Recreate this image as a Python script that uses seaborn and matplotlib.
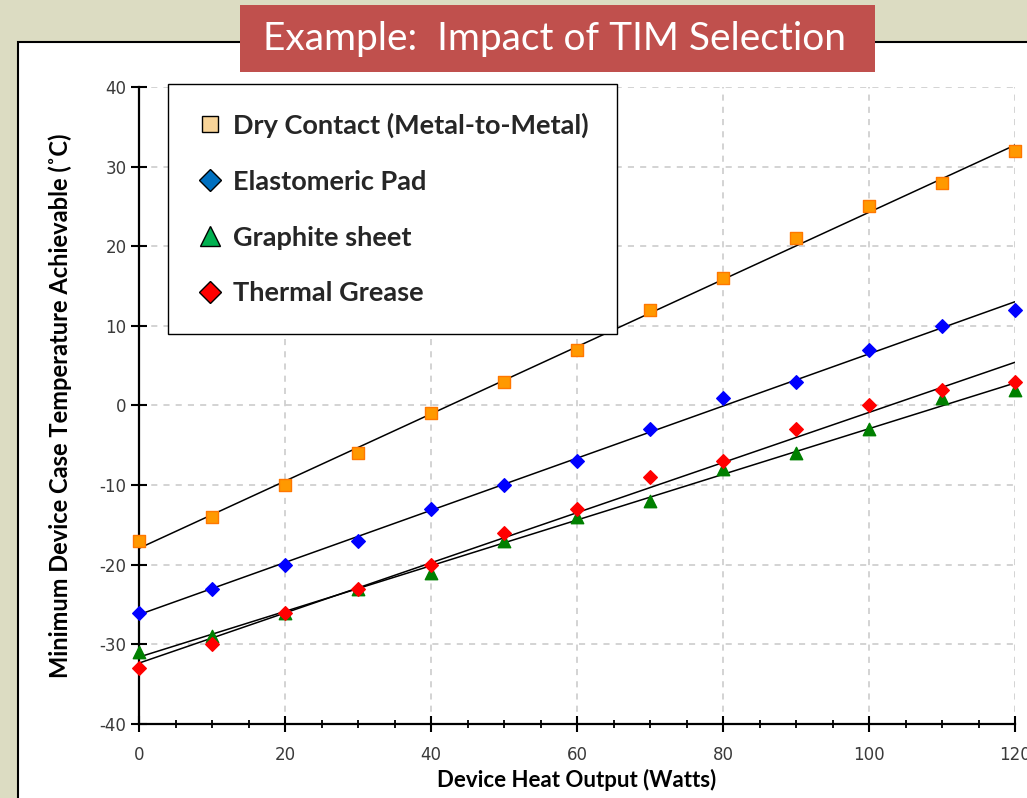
import matplotlib
matplotlib.use("Agg")
import matplotlib.pyplot as plt
from matplotlib.lines import Line2D
from matplotlib.patches import Rectangle
from matplotlib.ticker import MultipleLocator
import seaborn as sns
import pandas as pd
import numpy as np

watts = [0, 10, 20, 30, 40, 50, 60, 70, 80, 90, 100, 110, 120]
dry_contact = [-17, -14, -10, -6, -1, 3, 7, 12, 16, 21, 25, 28, 32]
elastomeric = [-26, -23, -20, -17, -13, -10, -7, -3, 1, 3, 7, 10, 12]
graphite = [-31, -29, -26, -23, -21, -17, -14, -12, -8, -6, -3, 1, 2]
grease = [-33, -30, -26, -23, -20, -16, -13, -9, -7, -3, 0, 2, 3]

series_names = ["Dry Contact (Metal-to-Metal)", "Elastomeric Pad", "Graphite sheet", "Thermal Grease"]
x_ticks = [0, 20, 40, 60, 80, 100, 120]
y_ticks = [-40, -30, -20, -10, 0, 10, 20, 30, 40]

sns.set_theme(style="white")
plt.rcParams['font.family'] = ['DejaVu Sans']
plt.rcParams['axes.unicode_minus'] = False

fig = plt.figure(figsize=(10.27, 7.98), dpi=100)
fig.patch.set_facecolor('#dcdcc2')

# outer white panel
fig.patches.append(Rectangle((18/1027, -0.01), 1.02, 1 - 42/798 + 0.01, transform=fig.transFigure,
                             facecolor='white', edgecolor='black', linewidth=1.5, zorder=-5))

ax = fig.add_axes([139/1027, 1 - 724/798, (1015-139)/1027, (724-87)/798])
ax.set_facecolor('none')
ax.set_zorder(1)

plot_df = pd.DataFrame({"x": watts * 4,
                        "y": dry_contact + elastomeric + graphite + grease,
                        "s": sum([[n] * len(watts) for n in series_names], [])})

styles = {
    series_names[0]: dict(marker='s', color='#ff9900', ec='#ff7700', size=75),
    series_names[1]: dict(marker='D', color='#0000ff', ec='#0000ff', size=48),
    series_names[2]: dict(marker='^', color='#008000', ec='#008000', size=80),
    series_names[3]: dict(marker='D', color='#ff0000', ec='#ff0000', size=48),
}

for name in series_names:
    sub = plot_df[plot_df.s == name]
    sns.regplot(data=sub, x="x", y="y", ax=ax, scatter=False, ci=None,
                line_kws=dict(color='black', lw=1.1, zorder=2))
    st = styles[name]
    sns.scatterplot(data=sub, x="x", y="y", ax=ax, marker=st['marker'], color=st['color'],
                    edgecolor=st['ec'], linewidth=1.0, s=st['size'], zorder=3, clip_on=False,
                    legend=False)

ax.set_xlim(0, 120)
ax.set_ylim(-40, 40)
ax.set_xticks(x_ticks)
ax.set_yticks(y_ticks)
ax.xaxis.set_minor_locator(MultipleLocator(5))
ax.grid(True, which='major', linestyle=(0, (4, 4)), color='#c8c8c8', linewidth=1.1)
for s in ['top', 'right']:
    ax.spines[s].set_visible(False)
for s in ['left', 'bottom']:
    ax.spines[s].set_color('black')
    ax.spines[s].set_linewidth(1.6)
ax.tick_params(axis='both', which='major', direction='inout', length=11, width=1.5,
               color='black', labelsize=12, labelcolor='#3a3a3a', bottom=True, left=True)
ax.tick_params(axis='x', which='major', pad=10)
ax.tick_params(axis='x', which='minor', direction='inout', length=6, width=1.3,
               color='black', bottom=True)
ax.set_xlabel("Device Heat Output (Watts)", fontsize=16, fontweight='bold',
              family=['Lato', 'DejaVu Sans'], color='black', labelpad=4)
ax.set_ylabel("Minimum Device Case Temperature Achievable (˚C)", fontsize=17, fontweight='bold',
              family=['Lato', 'DejaVu Sans'], color='black', labelpad=20)

handles = [
    Line2D([], [], linestyle='none', marker='s', markersize=12, markerfacecolor='#f8d498', markeredgecolor='black', markeredgewidth=1),
    Line2D([], [], linestyle='none', marker='D', markersize=11, markerfacecolor='#0070c0', markeredgecolor='black', markeredgewidth=1),
    Line2D([], [], linestyle='none', marker='^', markersize=15, markerfacecolor='#00b050', markeredgecolor='black', markeredgewidth=1),
    Line2D([], [], linestyle='none', marker='D', markersize=11, markerfacecolor='#ff0000', markeredgecolor='black', markeredgewidth=1),
]
leg = ax.legend(handles, series_names, loc='upper left', bbox_to_anchor=(0.033, 1.005),
                borderaxespad=0, frameon=True, fancybox=False, framealpha=1,
                prop=dict(family=['Lato', 'DejaVu Sans'], weight='bold', size=19.5),
                labelspacing=1.18, handletextpad=0.35, borderpad=1.05, handlelength=1.0)
leg.get_frame().set_edgecolor('black')
leg.get_frame().set_linewidth(1.0)
leg.set_zorder(5)

# title banner
fig.patches.append(Rectangle((240/1027, 1 - 72/798), 635/1027, 67/798, transform=fig.transFigure,
                             facecolor='#c0504d', edgecolor='none', zorder=10))
fig.text((240+875)/2/1027 - 0.003, 1 - 39/798, "Example:  Impact of TIM Selection", color='white',
         fontsize=28, family=['Lato', 'DejaVu Sans'], ha='center', va='center', zorder=11)

fig.savefig("out.png", dpi=100, facecolor=fig.get_facecolor())
